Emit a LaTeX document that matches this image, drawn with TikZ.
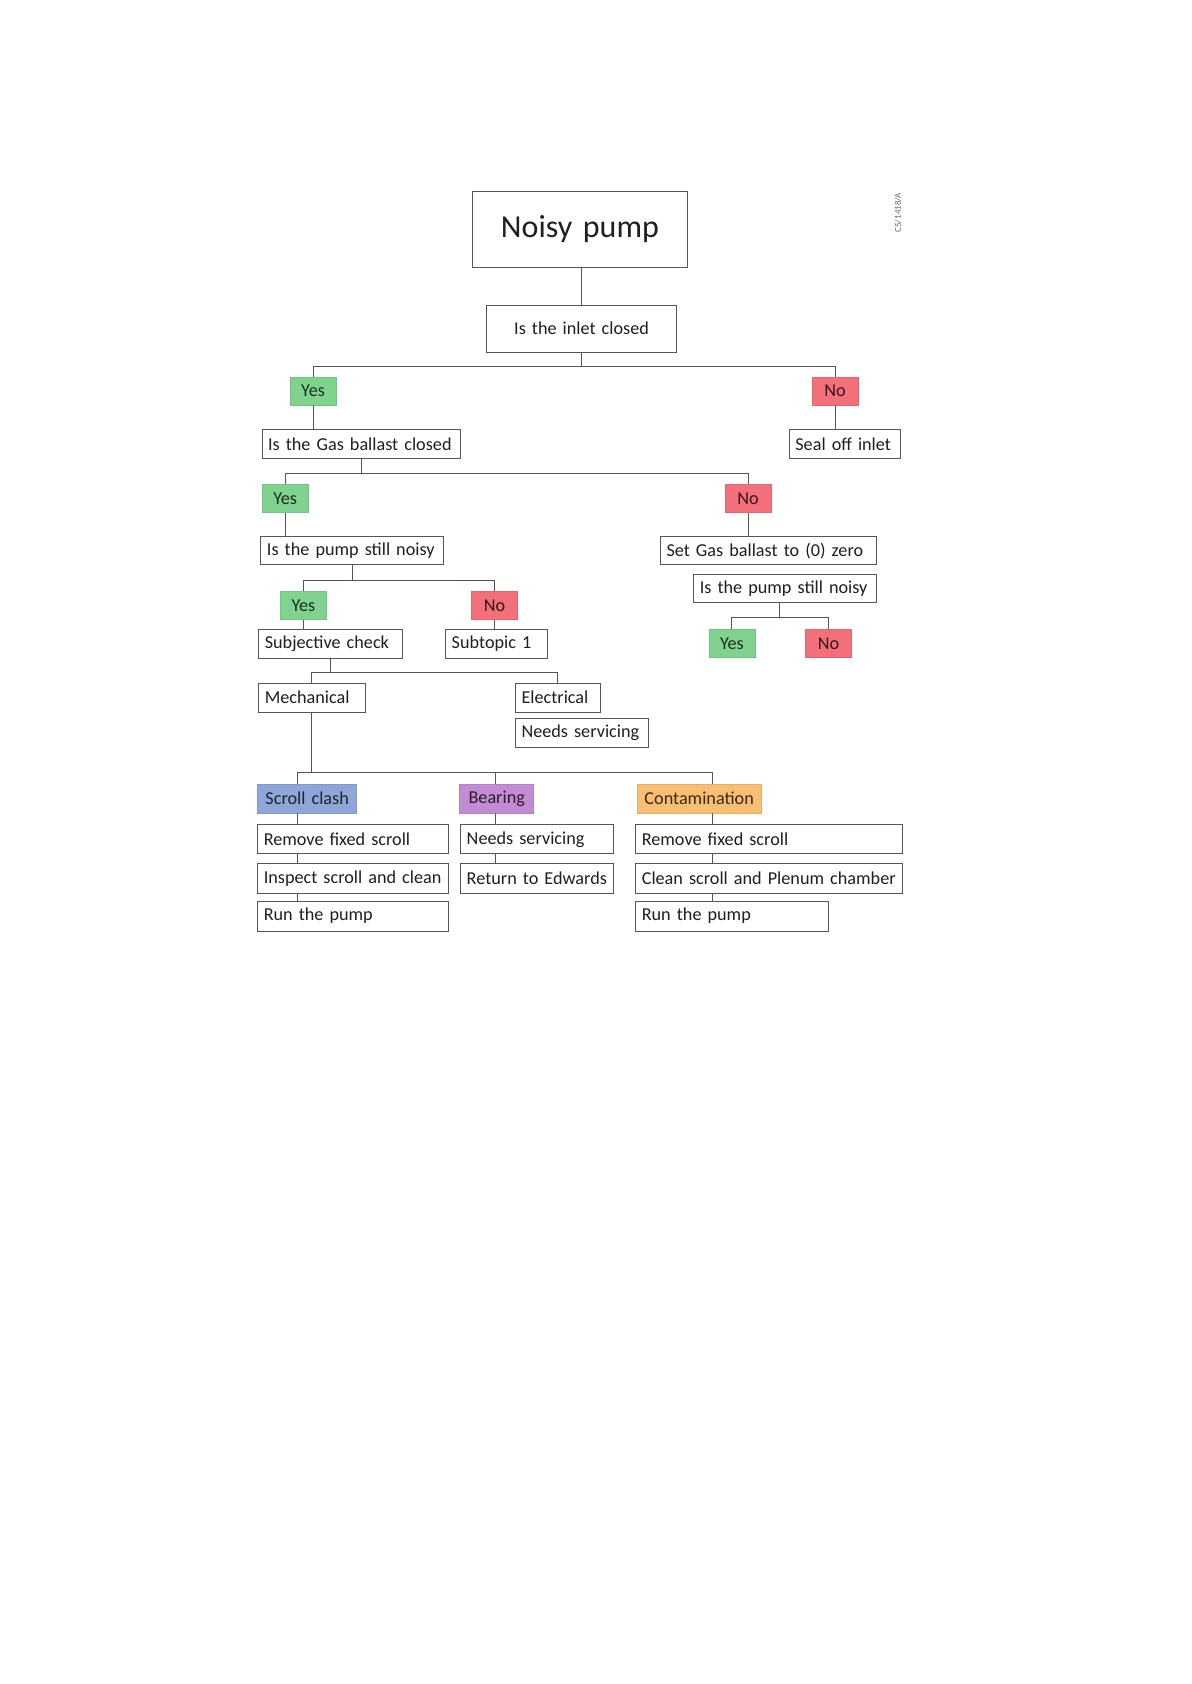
\documentclass[tikz,border=0pt]{standalone}
\usepackage{fontspec}
\setmainfont{Carlito}
\definecolor{gfill}{HTML}{7FD38F}
\definecolor{rfill}{HTML}{F36F7A}
\definecolor{bfill}{HTML}{8FA6D8}
\definecolor{pfill}{HTML}{C38BD3}
\definecolor{ofill}{HTML}{F8BE74}
\definecolor{lcol}{HTML}{555555}
\tikzset{
  bx/.style={draw=lcol, line width=0.5pt, fill=white, inner xsep=3pt, inner ysep=0pt,
    font=\fontsize{9.1}{10}\selectfont, text=black!88},
  colbox/.style={fill=#1, draw=#1!92!black, line width=0.3pt, align=center, text=#1!22!black},
  yesbox/.style={colbox=gfill},
  nobox/.style={colbox=rfill},
  bluebox/.style={colbox=bfill},
  purplebox/.style={colbox=pfill},
  orangebox/.style={colbox=ofill},
  conn/.style={draw=lcol, line width=0.5pt}
}
\newcommand\bxn[7][]{%
  \pgfmathsetmacro\bw{(#5-#3)*0.537}%
  \pgfmathsetmacro\bh{(#6-#4)*0.537}%
  \pgfmathsetmacro\tw{\bw-6}%
  \node[bx, minimum width=\bw pt, minimum height=\bh pt, text width=\tw pt, align=left, #1]
    (#2) at ({(#3+#5)/2},{(#4+#6)/2}) {#7};%
}
\begin{document}
\begin{tikzpicture}[x=0.537pt,y=-0.537pt]
\useasboundingbox (0,0) rectangle (1109,1568);

\bxn[align=center, font=\fontsize{16}{19}\selectfont]{noisy}{440}{178}{640}{249}{Noisy pump}
\bxn[align=center]{inlet}{453}{284}{630}{328}{Is the inlet closed}
\bxn[yesbox]{yes1}{270}{351}{313}{377}{Yes}
\bxn[nobox]{no1}{756}{351}{799}{377}{No}
\bxn{gas}{244}{400}{429}{427}{Is the Gas ballast closed}
\bxn{seal}{735}{400}{838}{427}{Seal off inlet}
\bxn[yesbox]{yes2}{244}{451}{287}{477}{Yes}
\bxn[nobox]{no2}{675}{451}{718}{477}{No}
\bxn{noisyA}{243}{500}{413}{526}{Is the pump still noisy}
\bxn{setgas}{615}{500}{816}{526}{Set Gas ballast to (0) zero}
\bxn{noisyB}{646}{535}{816}{561}{Is the pump still noisy}
\bxn[yesbox]{yes4}{660}{586}{703}{612}{Yes}
\bxn[nobox]{no4}{750}{586}{793}{612}{No}
\bxn[yesbox]{yes3}{261}{551}{304}{577}{Yes}
\bxn[nobox]{no3}{439}{551}{482}{577}{No}
\bxn{subj}{241}{586}{375}{613}{Subjective check}
\bxn{subt}{415}{586}{510}{613}{Subtopic 1}
\bxn{mech}{241}{636}{340}{663}{Mechanical}
\bxn{elec}{480}{636}{559}{663}{Electrical}
\bxn{needsA}{480}{669}{604}{696}{Needs servicing}
\bxn[bluebox]{scroll}{240}{730}{332}{757}{Scroll clash}
\bxn[purplebox]{bear}{428}{730}{497}{757}{Bearing}
\bxn[orangebox]{cont}{593}{730}{709}{757}{Contamination}
\bxn{rf1}{240}{768}{418}{795}{Remove fixed scroll}
\bxn{isc}{240}{804}{418}{832}{Inspect scroll and clean}
\bxn{run1}{240}{839}{418}{867}{Run the pump}
\bxn{needsB}{429}{768}{571}{795}{Needs servicing}
\bxn{ret}{429}{804}{571}{832}{Return to Edwards}
\bxn{rf2}{592}{768}{840}{795}{Remove fixed scroll}
\bxn{clean}{592}{804}{840}{832}{Clean scroll and Plenum chamber}
\bxn{run2}{592}{839}{771}{867}{Run the pump}

\node[rotate=90, font=\fontsize{4.5}{5}\selectfont, text=black!60, inner sep=0pt] (code) at (836,198) {C5/1418/A};

% connectors
\draw[conn] (inlet.north) -- (inlet.north |- noisy.south);
\draw[conn] (inlet.south) -- ++(0,13) coordinate (b1);
\draw[conn] (yes1.north) |- (b1) -| (no1.north);
\draw[conn] (yes1.south) -- (yes1.south |- gas.north);
\draw[conn] (no1.south) -- (no1.south |- seal.north);

\draw[conn] (gas.south) -- ++(0,13) coordinate (b2);
\draw[conn] (yes2.north) |- (b2) -| (no2.north);
\draw[conn] (yes2.south) -- (yes2.south |- noisyA.north);
\draw[conn] (no2.south) -- (no2.south |- setgas.north);

\draw[conn] (noisyA.south) -- ++(0,14) coordinate (b3);
\draw[conn] (yes3.north) |- (b3) -| (no3.north);
\draw[conn] (yes3.south) -- (yes3.south |- subj.north);
\draw[conn] (no3.south) -- (no3.south |- subt.north);

\coordinate (b4t) at (726,561);
\draw[conn] (b4t) -- ++(0,14) coordinate (b4);
\draw[conn] (yes4.north) |- (b4) -| (no4.north);

\draw[conn] (subj.south) -- ++(0,13) coordinate (b5);
\draw[conn] (mech.north) |- (b5) -| (elec.north);

\coordinate (d1) at (277,719);
\coordinate (d2) at (461,719);
\coordinate (d3) at (663,719);
\draw[conn] (mech.south) -- (mech.south |- d1);
\draw[conn] (d1) -- (d3);
\draw[conn] (d1) -- (d1 |- scroll.north);
\draw[conn] (d2) -- (d2 |- bear.north);
\draw[conn] (d3) -- (d3 |- cont.north);

\draw[conn] (scroll.south -| d1) -- (rf1.north -| d1);
\draw[conn] (rf1.south -| d1) -- (isc.north -| d1);
\draw[conn] (isc.south -| d1) -- (run1.north -| d1);
\draw[conn] (bear.south -| d2) -- (needsB.north -| d2);
\draw[conn] (needsB.south -| d2) -- (ret.north -| d2);
\draw[conn] (cont.south -| d3) -- (rf2.north -| d3);
\draw[conn] (rf2.south -| d3) -- (clean.north -| d3);
\draw[conn] (clean.south -| d3) -- (run2.north -| d3);
\end{tikzpicture}
\end{document}
